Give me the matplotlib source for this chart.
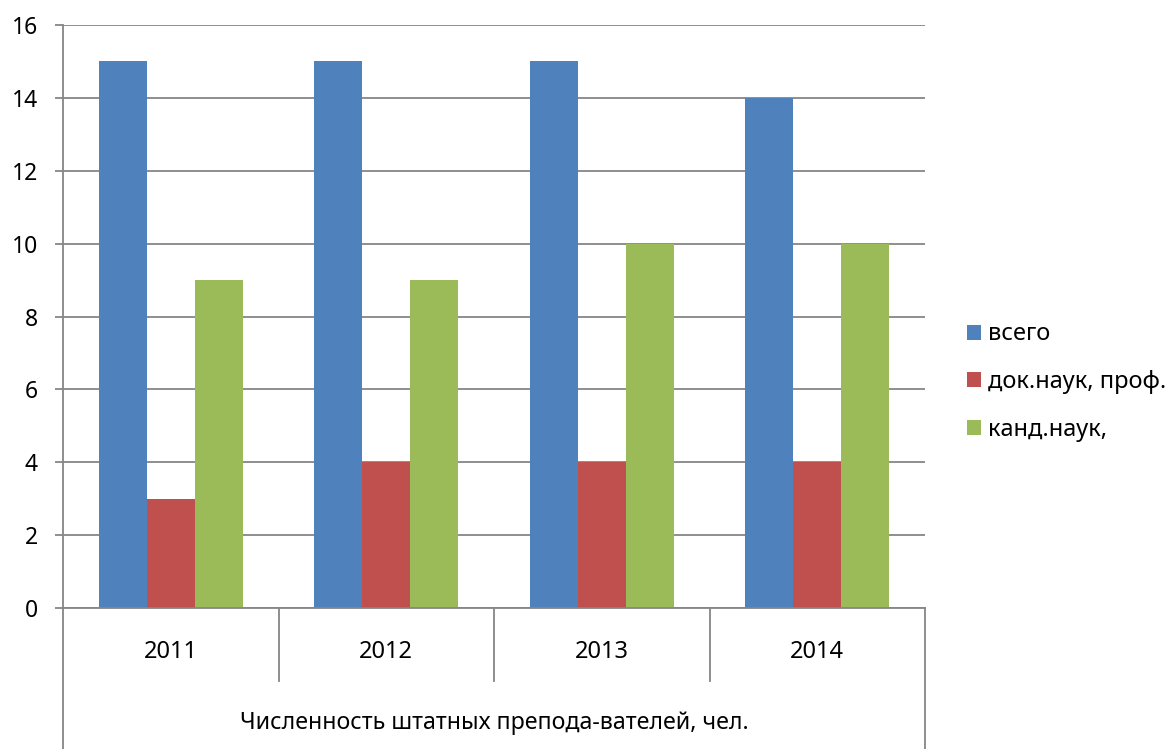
import matplotlib.pyplot as plt
import numpy as np

plt.rcParams['font.family'] = ['Noto Sans', 'DejaVu Sans']

# ===================== DATA =====================
years = ["2011", "2012", "2013", "2014"]
total = [15, 15, 15, 14]
doctors = [3, 4, 4, 4]
candidates = [9, 9, 10, 10]
series_names = ["всего", "док.наук, проф.", "канд.наук,"]
group_label = "Численность штатных препода-вателей, чел."

colors = ["#4F81BD", "#C0504D", "#9BBB59"]
grid_col = "#868686"

# ===================== FIGURE =====================
fig = plt.figure(figsize=(11.71, 7.49), dpi=100)
ax = fig.add_axes([63 / 1171, 1 - 608 / 749, (925 - 63) / 1171, (608 - 25) / 749])

x = np.arange(len(years))
w = 0.2227
bars = []
for i, vals in enumerate([total, doctors, candidates]):
    b = ax.bar(x + (i - 1) * w, vals, width=w, color=colors[i], label=series_names[i], zorder=3)
    bars.append(b)

ax.set_xlim(-0.5, len(years) - 0.5)
ax.set_ylim(0, 16)
ax.set_yticks(np.arange(0, 17, 2))
ax.yaxis.grid(True, color=grid_col, linewidth=1.3, zorder=0)
ax.set_axisbelow(True)

for s in ["top", "right", "bottom"]:
    ax.spines[s].set_visible(False)
ax.spines["left"].set_color(grid_col)
ax.spines["left"].set_linewidth(1.3)

ax.tick_params(axis="y", length=6, width=1.3, color=grid_col, labelsize=16.5, pad=12)
ax.set_xticks([])

# ===================== CATEGORY AXIS (two levels) =====================
tr = ax.get_xaxis_transform()
ax.plot([-0.5, len(years) - 0.5], [0, 0], transform=tr, color=grid_col, lw=1.3, clip_on=False, zorder=4)
for k in range(1, len(years)):
    ax.plot([k - 0.5, k - 0.5], [0, -0.125], transform=tr, color=grid_col, lw=1.3, clip_on=False)
for xe in [-0.5, len(years) - 0.5]:
    ax.plot([xe, xe], [0, -0.245], transform=tr, color=grid_col, lw=1.3, clip_on=False)

for k, yr in enumerate(years):
    ax.text(k, -0.075, yr, transform=tr, ha="center", va="center", fontsize=17)
ax.text((len(years) - 1) / 2, -0.198, group_label, transform=tr, ha="center", va="center", fontsize=16.7)

# ===================== LEGEND =====================
fig.legend(
    handles=bars,
    labels=series_names,
    loc="center left",
    bbox_to_anchor=(962 / 1171, 1 - 382 / 749),
    frameon=False,
    fontsize=17,
    handlelength=0.6,
    handleheight=0.6,
    handletextpad=0.3,
    labelspacing=1.0,
    borderpad=0.2,
    borderaxespad=0,
)

fig.savefig("out.png", dpi=100)
